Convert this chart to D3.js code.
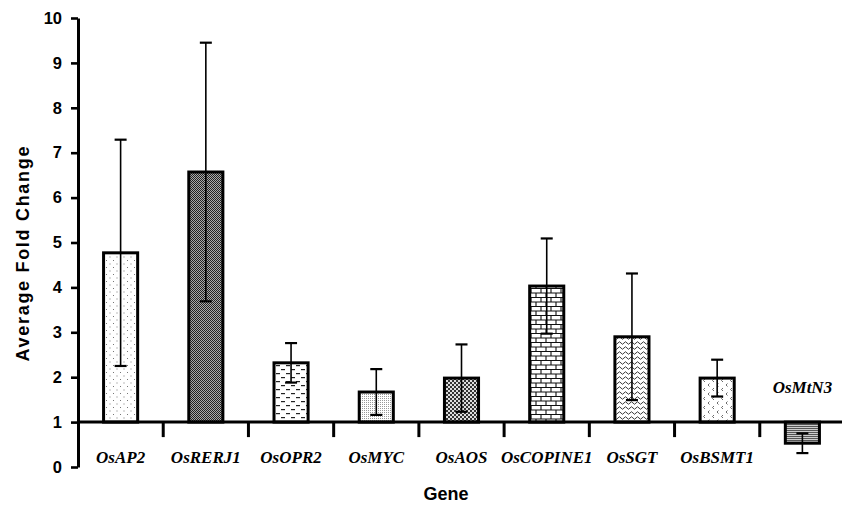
<!DOCTYPE html>
<html>
<head>
<meta charset="utf-8">
<script src="https://cdn.jsdelivr.net/npm/d3@7"></script>
<style>
  body { margin: 0; background: #fff; }
  svg { display: block; }
</style>
</head>
<body>
<svg width="842" height="505"></svg>
<script>
// data
var genes = ["OsAP2", "OsRERJ1", "OsOPR2", "OsMYC", "OsAOS", "OsCOPINE1", "OsSGT", "OsBSMT1", "OsMtN3"]
var foldChange = [4.77, 6.57, 2.32, 1.67, 1.98, 4.03, 2.90, 1.98, 0.53]
var errSD = [2.52, 2.88, 0.44, 0.51, 0.75, 1.06, 1.41, 0.41, 0.22]
var yTicks = [0, 1, 2, 3, 4, 5, 6, 7, 8, 9, 10]
var baseLine = 1
var patternIds = ["pDots", "pDense", "pDash", "pFine", "pCheck", "pBrick", "pWave", "pChev", "pLines"]

var svg = d3.select("svg")
var defs = svg.append("defs")

function pattern(id, w, h){
    var p = defs.append("pattern").attr("id", id)
        .attr("patternUnits", "userSpaceOnUse")
        .attr("width", w).attr("height", h)
    p.append("rect").attr("width", w).attr("height", h).attr("fill", "#fff")
    return p
}

// sparse dots
var p = pattern("pDots", 7, 7)
p.append("rect").attr("x", 1).attr("y", 1).attr("width", 1).attr("height", 1).attr("fill", "#777")
p.append("rect").attr("x", 4.5).attr("y", 4.5).attr("width", 1).attr("height", 1).attr("fill", "#777")
// dense dark checker
p = pattern("pDense", 2, 2)
p.select("rect").attr("fill", "#aaa")
p.append("rect").attr("width", 1).attr("height", 1).attr("fill", "#222")
p.append("rect").attr("x", 1).attr("y", 1).attr("width", 1).attr("height", 1).attr("fill", "#222")
// short dashes
p = pattern("pDash", 10, 8)
p.append("rect").attr("x", 1).attr("y", 1).attr("width", 4).attr("height", 1.2).attr("fill", "#222")
p.append("rect").attr("x", 6).attr("y", 5).attr("width", 4).attr("height", 1.2).attr("fill", "#222")
// fine dots
p = pattern("pFine", 2, 2)
p.append("rect").attr("width", 1).attr("height", 1).attr("fill", "#999")
// coarse checker
p = pattern("pCheck", 4, 4)
p.select("rect").attr("fill", "#ddd")
p.append("rect").attr("width", 2).attr("height", 2).attr("fill", "#333")
p.append("rect").attr("x", 2).attr("y", 2).attr("width", 2).attr("height", 2).attr("fill", "#333")
// bricks
p = pattern("pBrick", 10, 9)
p.append("path").attr("d", "M0,0.5H10M0,5H10M1,0.5V5M6,5V9").attr("stroke", "#111").attr("stroke-width", 1.1).attr("fill", "none")
// waves
p = pattern("pWave", 6, 5)
p.append("path").attr("d", "M0,3 Q1.5,0.5 3,3 T6,3").attr("stroke", "#222").attr("stroke-width", 0.9).attr("fill", "none")
// chevrons
p = pattern("pChev", 9, 9)
p.append("path").attr("d", "M3,1 L1.5,2.5 L3,4 M7.5,5.5 L6,7 L7.5,8.5").attr("stroke", "#444").attr("stroke-width", 0.8).attr("fill", "none")
// horizontal lines
p = pattern("pLines", 4, 2)
p.select("rect").attr("fill", "#ccc")
p.append("rect").attr("width", 4).attr("height", 1).attr("fill", "#555")

const xScale = d3.scaleBand()
    .domain(genes)
    .range([78, 845])
    .padding(0)

const yScale = d3.scaleLinear()
    .domain([0, 10])
    .range([467, 18])

var data = genes.map((g, i) => ({gene: g, value: foldChange[i], sd: errSD[i], pat: patternIds[i]}))
var barW = xScale.bandwidth() * 0.4

// bars (grow from y = 1)
svg.selectAll(".bar").data(data).enter().append("rect")
    .classed("bar", true)
    .attr("x", d => xScale(d.gene) + (xScale.bandwidth() - barW) / 2)
    .attr("width", barW)
    .attr("y", d => yScale(Math.max(d.value, baseLine)))
    .attr("height", d => Math.abs(yScale(d.value) - yScale(baseLine)))
    .attr("fill", d => "url(#" + d.pat + ")")
    .attr("stroke", "#000")
    .attr("stroke-width", 3)

// error bars
var err = svg.selectAll(".err").data(data).enter().append("g").classed("err", true)
    .attr("transform", d => `translate(${xScale(d.gene) + xScale.bandwidth() / 2},0)`)
err.append("line")
    .attr("y1", d => yScale(d.value + d.sd))
    .attr("y2", d => yScale(d.value - d.sd))
    .attr("stroke", "#000").attr("stroke-width", 1.6)
err.selectAll(".cap").data(d => [d.value + d.sd, d.value - d.sd]).enter().append("line")
    .attr("x1", -6).attr("x2", 6)
    .attr("y1", v => yScale(v)).attr("y2", v => yScale(v))
    .attr("stroke", "#000").attr("stroke-width", 2.2)

// x axis at y = 1, with ticks at category boundaries
svg.append("line")
    .attr("x1", 78).attr("x2", 842)
    .attr("y1", yScale(baseLine)).attr("y2", yScale(baseLine))
    .attr("stroke", "#000").attr("stroke-width", 3)
svg.selectAll(".xtick").data(genes.slice(1)).enter().append("line")
    .attr("x1", d => xScale(d)).attr("x2", d => xScale(d))
    .attr("y1", yScale(baseLine)).attr("y2", yScale(baseLine) + 15)
    .attr("stroke", "#000").attr("stroke-width", 3)

// gene labels
svg.selectAll(".glabel").data(data).enter().append("text")
    .attr("x", d => xScale(d.gene) + xScale.bandwidth() / 2)
    .attr("y", d => d.value < baseLine ? yScale(baseLine) - 29 : yScale(baseLine) + 41)
    .attr("text-anchor", "middle")
    .attr("font-family", "'Liberation Serif', 'Times New Roman', serif")
    .attr("font-weight", "bold")
    .attr("font-style", "italic")
    .attr("font-size", "17px")
    .text(d => d.gene)

// y axis
var yAxis = svg.append("g")
    .attr("transform", "translate(78,0)")
    .call(d3.axisLeft(yScale).tickValues(yTicks).tickSize(7).tickPadding(9).tickSizeOuter(0))
yAxis.select(".domain").attr("stroke-width", 3)
yAxis.selectAll(".tick line").attr("stroke-width", 2.6)
yAxis.selectAll(".tick text")
    .attr("font-family", "'Liberation Sans', Arial, sans-serif")
    .attr("font-weight", "bold")
    .attr("font-size", "16.5px")
    .attr("fill", "#000")

// axis titles
svg.append("text")
    .attr("transform", "translate(29,254) rotate(-90)")
    .attr("text-anchor", "middle")
    .attr("font-family", "'Liberation Sans', Arial, sans-serif")
    .attr("font-weight", "bold")
    .attr("font-size", "18px")
    .attr("textLength", 215)
    .text("Average Fold Change")
svg.append("text")
    .attr("x", 446).attr("y", 500)
    .attr("text-anchor", "middle")
    .attr("font-family", "'Liberation Sans', Arial, sans-serif")
    .attr("font-weight", "bold")
    .attr("font-size", "18px")
    .text("Gene")
</script>
</body>
</html>
